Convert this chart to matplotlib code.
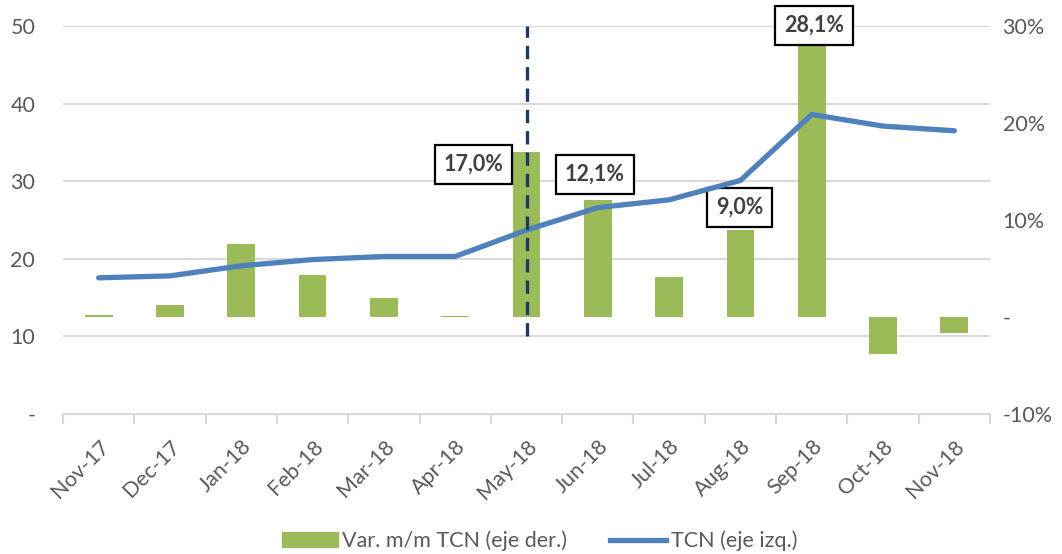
import matplotlib.pyplot as plt
import matplotlib.transforms as mtransforms
from matplotlib.patches import Patch
from matplotlib.lines import Line2D
import numpy as np

# Data
months = ['Nov-17', 'Dec-17', 'Jan-18', 'Feb-18', 'Mar-18', 'Apr-18', 'May-18',
          'Jun-18', 'Jul-18', 'Aug-18', 'Sep-18', 'Oct-18', 'Nov-18']
var_mm = [0.24, 1.2, 7.5, 4.3, 2.0, 0.1, 17.0, 12.1, 4.1, 9.0, 28.1, -3.8, -1.7]   # % (right axis)
tcn = [17.55, 17.8, 19.1, 19.9, 20.3, 20.3, 23.7, 26.6, 27.6, 30.1, 38.6, 37.1, 36.5]  # left axis

left_ticks = [0, 10, 20, 30, 40, 50]
left_labels = ['-', '10', '20', '30', '40', '50']
right_ticks = [-10, 0, 10, 20, 30]
right_labels = ['-10%', '-', '10%', '20%', '30%']

# labelled bars: index, text, offset of label centre from bar top (pixels, up is +)
labels_idx = [6, 7, 9, 10]
labels_txt = ['17,0%', '12,1%', '9,0%', '28,1%']
labels_off = [(-53, -12), (-3, 25), (-1, 22), (2, 19)]

marker_month = 'May-18'

green = '#9BBB59'
blue = '#4F81BD'
grid_col = '#D9D9D9'
txt_col = '#595959'

plt.rcParams['font.family'] = ['Lato', 'DejaVu Sans']

fig = plt.figure(figsize=(10.62, 5.54), dpi=100)
ax = fig.add_axes([63/1062, 1 - 414/554, (990 - 63)/1062, (414 - 26)/554])
ax2 = ax.twinx()
ax.set_zorder(ax2.get_zorder() + 1)
ax.patch.set_visible(False)

x = np.arange(len(months))

# bars on the right axis
ax2.bar(x, var_mm, width=0.39, color=green, zorder=2)
ax2.set_ylim(-10, 30)
ax2.set_yticks(right_ticks)
ax2.set_yticklabels(right_labels)

# gridlines follow the left axis but sit behind the bars
blend = mtransforms.blended_transform_factory(ax2.transAxes, ax.transData)
for v in left_ticks[1:]:
    ax2.plot([0, 1], [v, v], transform=blend, color=grid_col, lw=1.5, zorder=0)

# line on the left axis
ax.plot(x, tcn, color=blue, lw=3.8, solid_capstyle='round', solid_joinstyle='round', zorder=3)
ax.set_ylim(0, 50)
ax.set_yticks(left_ticks)
ax.set_yticklabels(left_labels)
ax.set_xlim(-0.5, len(months) - 0.5)

# vertical dashed marker
mi = months.index(marker_month)
ax.plot([mi, mi], [10, 50], color='#203864', lw=2.4, linestyle=(0, (4, 2.4)), zorder=4)

# boxed labels
for i, t, (dx, dy) in zip(labels_idx, labels_txt, labels_off):
    ax2.annotate(t, xy=(x[i], var_mm[i]), xytext=(dx, dy), textcoords='offset pixels',
                 ha='center', va='center', fontsize=15.5, fontweight='bold', color='#404040',
                 bbox=dict(boxstyle='square,pad=0.42', fc='white', ec='black', lw=1.6),
                 annotation_clip=False, zorder=5)

# axes styling
for a in (ax, ax2):
    for s in ['top', 'left', 'right', 'bottom']:
        a.spines[s].set_visible(False)
ax.spines['bottom'].set_visible(True)
ax.spines['bottom'].set_color(grid_col)
ax.spines['bottom'].set_linewidth(1.5)

fs = 15.5
ax.tick_params(axis='y', length=0, pad=20, labelsize=fs, labelcolor=txt_col)
ax2.tick_params(axis='y', length=0, pad=9, labelsize=fs, labelcolor=txt_col)
ax.set_xticks(x)
ax.set_xticklabels(months, rotation=45, ha='right', va='top', rotation_mode='anchor',
                   fontsize=fs, color=txt_col)
ax.tick_params(axis='x', which='major', length=0, pad=16)
ax.set_xticks(np.arange(len(months) + 1) - 0.5, minor=True)
ax.tick_params(axis='x', which='minor', length=7, width=1.5, color=grid_col)

# legend
handles = [Patch(color=green, label='Var. m/m TCN (eje der.)'),
           Line2D([0], [0], color=blue, lw=3.8, label='TCN (eje izq.)')]
fig.legend(handles=handles, loc='center', bbox_to_anchor=(0.508, 1 - 541/554), ncol=2,
           frameon=False, fontsize=fs, labelcolor=txt_col, handlelength=2.6,
           handletextpad=0.2, columnspacing=2.0)

plt.savefig('out.png', dpi=100)
